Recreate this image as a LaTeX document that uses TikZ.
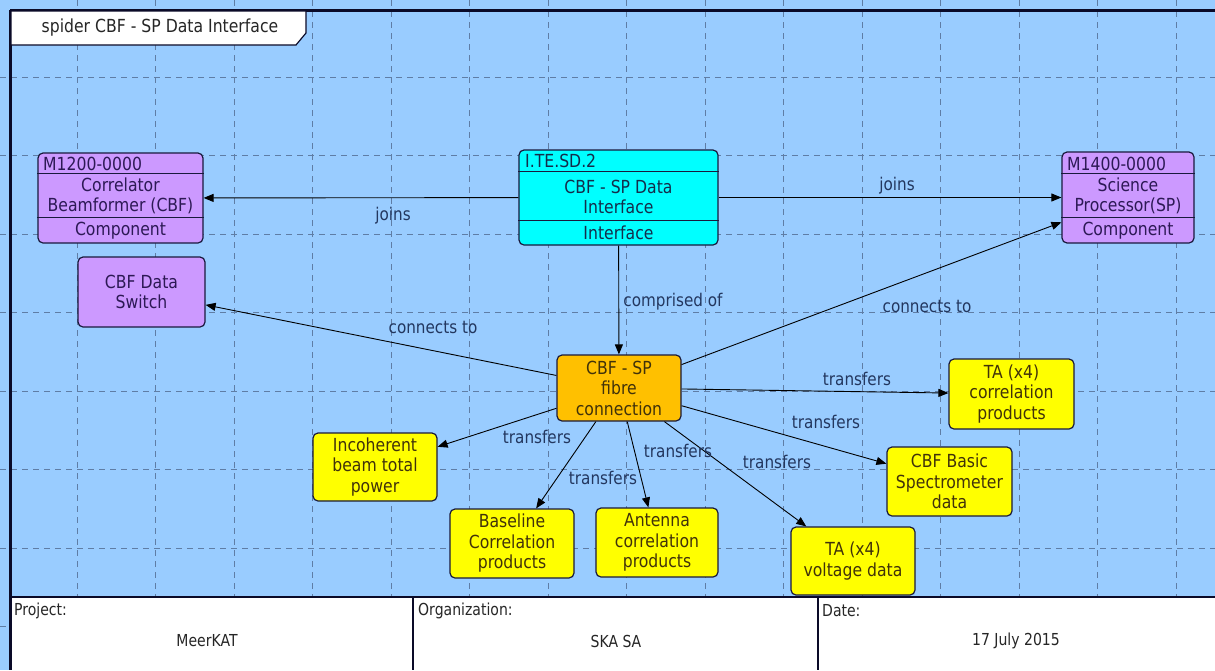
\documentclass[tikz,border=0pt]{standalone}
\usepackage{fontspec}
\setmainfont{DejaVu Sans}[FakeStretch=0.87]
\newfontfamily\footfont{DejaVu Sans}[FakeStretch=0.85]
\usetikzlibrary{arrows.meta,calc}

\definecolor{bgblue}{RGB}{153,204,255}
\definecolor{gridc}{RGB}{95,125,165}
\definecolor{purp}{RGB}{204,153,255}
\definecolor{cyanb}{RGB}{0,255,255}
\definecolor{orangeb}{RGB}{255,192,0}
\definecolor{yellowb}{RGB}{255,255,0}
\definecolor{bordc}{RGB}{25,25,60}
\definecolor{framec}{RGB}{10,10,40}
\definecolor{ptext}{RGB}{45,25,85}
\definecolor{ctext}{RGB}{20,45,75}
\definecolor{ytext}{RGB}{65,50,10}
\definecolor{ltext}{RGB}{35,55,95}

\begin{document}
\begin{tikzpicture}[x=1pt,y=-1pt,
  boxbase/.style={draw=bordc, line width=1.2pt, rounded corners=5pt, inner sep=0pt, align=center,
    font=\fontsize{18}{20.5}\selectfont},
  compbox/.style={boxbase, fill=purp, text=ptext},
  ifbox/.style={boxbase, fill=cyanb, text=ctext},
  fibrebox/.style={boxbase, fill=orangeb, text=ytext},
  prodbox/.style={boxbase, fill=yellowb, text=ytext},
  divline/.style={draw=bordc, line width=1.2pt},
  intext/.style={inner sep=0pt, align=center, font=\fontsize{18}{20.5}\selectfont},
  lbl/.style={inner sep=0pt, text=ltext, font=\fontsize{17.5}{20.5}\selectfont},
  conn/.style={-{Triangle[length=10pt,width=8pt]}, line width=0.9pt, draw=black},
  gridline/.style={draw=gridc, line width=0.8pt, dash pattern=on 6pt off 5pt},
  foottext/.style={inner sep=0pt, text=black!85, font=\footfont\fontsize{16.5}{19}\selectfont}
]
\useasboundingbox (0,0) rectangle (1215,670);
\fill[bgblue] (0,0) rectangle (1215,670);

% grid
\foreach \k in {0,...,14} {
  \draw[gridline] ({77+78.5*\k},0) -- ({77+78.5*\k},670);
}
\foreach \k in {0,...,7} {
  \draw[gridline] (0,{77+78.5*\k}) -- (1215,{77+78.5*\k});
}

% footer
\fill[white] (11,597) rectangle (1215,670);
\draw[framec, line width=2pt] (10,597) -- (1215,597);
\draw[framec, line width=1.6pt] (413,597) -- (413,670);
\draw[framec, line width=1.6pt] (818,597) -- (818,670);

% frame
\draw[framec, line width=2.8pt] (10,10.5) -- (1215,10.5);
\draw[framec, line width=2.5pt] (10.5,9.5) -- (10.5,670);

% title tab
\fill[white] (11.5,11.5) -- (306,11.5) -- (306,33) -- (296,45) -- (11.5,45) -- cycle;
\draw[framec, line width=1.2pt] (306,11) -- (306,33) -- (296,45) -- (11,45);
\node[intext, text=black!85] (title) at (160,28) {spider CBF - SP Data Interface};

% CBF component
\node[compbox, minimum width=165pt, minimum height=90pt] (cbf) at (120.5,198) {};
\draw[divline] ($(cbf.north west)+(0,21)$) -- ($(cbf.north east)+(0,21)$);
\draw[divline] ($(cbf.south west)+(0,-26)$) -- ($(cbf.south east)+(0,-26)$);
\node[intext, text=ptext, anchor=west] (cbfid) at (43,164) {M1200-0000};
\node[intext, text=ptext] (cbfname) at (120.5,196) {Correlator\\Beamformer (CBF)};
\node[intext, text=ptext] (cbftype) at (120.5,230.5) {Component};

% Interface
\node[ifbox, minimum width=199pt, minimum height=95pt] (iface) at (618.5,197.5) {};
\draw[divline] ($(iface.north west)+(0,22)$) -- ($(iface.north east)+(0,22)$);
\draw[divline] ($(iface.south west)+(0,-25)$) -- ($(iface.south east)+(0,-25)$);
\node[intext, text=ctext, anchor=west] (ifid) at (525,161) {I.TE.SD.2};
\node[intext, text=ctext] (ifname) at (618.5,197) {CBF - SP Data\\Interface};
\node[intext, text=ctext] (iftype) at (618.5,233) {Interface};

% SP component
\node[compbox, minimum width=132pt, minimum height=91pt] (sp) at (1128,197.5) {};
\draw[divline] ($(sp.north west)+(0,22)$) -- ($(sp.north east)+(0,22)$);
\draw[divline] ($(sp.south west)+(0,-26)$) -- ($(sp.south east)+(0,-26)$);
\node[intext, text=ptext, anchor=west] (spid) at (1067,164) {M1400-0000};
\node[intext, text=ptext] (spname) at (1128,196) {Science\\Processor(SP)};
\node[intext, text=ptext] (sptype) at (1128,230.5) {Component};

% simple boxes
\node[compbox, minimum width=127pt, minimum height=70pt] (switch) at (141.5,292) {CBF Data\\Switch};
\node[fibrebox, minimum width=124pt, minimum height=66pt] (fibre) at (619,388) {CBF - SP\\fibre\\connection};
\node[prodbox, minimum width=124pt, minimum height=68pt] (incoh) at (375,467) {Incoherent\\beam total\\power};
\node[prodbox, minimum width=124pt, minimum height=69pt] (base) at (512,543.5) {Baseline\\Correlation\\products};
\node[prodbox, minimum width=122pt, minimum height=69pt] (ant) at (657,542.5) {Antenna\\correlation\\products};
\node[prodbox, minimum width=124pt, minimum height=68pt] (volt) at (853,561) {TA (x4)\\voltage data};
\node[prodbox, minimum width=125pt, minimum height=69pt] (basic) at (949.5,481.5) {CBF Basic\\Spectrometer\\data};
\node[prodbox, minimum width=125pt, minimum height=70pt] (tacorr) at (1011.5,394) {TA (x4)\\correlation\\products};

% connectors
\draw[conn] (iface) -- (cbf);
\draw[conn] (iface) -- (sp);
\draw[conn] (iface) -- (fibre);
\draw[conn] (fibre) -- (switch);
\draw[conn] (fibre) -- (sp);
\draw[conn] (fibre) -- (tacorr);
\draw[conn] (fibre) -- (basic);
\draw[conn] (fibre) -- (volt);
\draw[conn] (fibre) -- (ant);
\draw[conn] (fibre) -- (base);
\draw[conn] (fibre) -- (incoh);

% labels
\node[lbl] (l1) at (393,216) {joins};
\node[lbl] (l2) at (897,186) {joins};
\node[lbl] (l3) at (673,302) {comprised of};
\node[lbl] (l4) at (433,327) {connects to};
\node[lbl] (l5) at (927,306) {connects to};
\node[lbl] (l6) at (857,379) {transfers};
\node[lbl] (l7) at (826,422) {transfers};
\node[lbl] (l8) at (777,462) {transfers};
\node[lbl] (l9) at (678,451) {transfers};
\node[lbl] (l10) at (603,478) {transfers};
\node[lbl] (l11) at (537,437) {transfers};

% footer texts
\node[foottext, anchor=west] (fp) at (14,611) {Project:};
\node[foottext] (fpv) at (207,641) {MeerKAT};
\node[foottext, anchor=west] (fo) at (418,611) {Organization:};
\node[foottext] (fov) at (616,641) {SKA SA};
\node[foottext, anchor=west] (fd) at (822,611) {Date:};
\node[foottext] (fdv) at (1016,641) {17 July 2015};
\end{tikzpicture}
\end{document}
